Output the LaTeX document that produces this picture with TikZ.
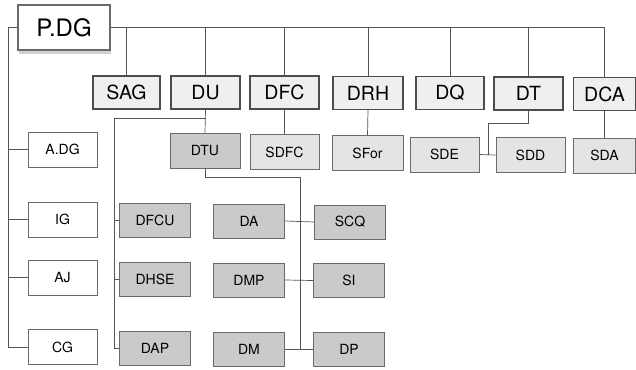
\documentclass[tikz,border=0pt]{standalone}
\usepackage{fontspec}
\setmainfont{TeX Gyre Heros}
\usetikzlibrary{shadows}
\definecolor{linec}{HTML}{555555}
\definecolor{boxline}{HTML}{6A6A6A}
\definecolor{darkfill}{HTML}{CACACA}
\definecolor{lightfill}{HTML}{E4E4E4}
\definecolor{dirfill}{HTML}{EFEFEF}
\tikzset{
  every node/.style={inner sep=0pt, align=center},
  topbox/.style={draw=boxline, line width=1.6pt, fill=white, font=\fontsize{24}{28}\selectfont,
    minimum width=92pt, minimum height=45pt,
    drop shadow={shadow xshift=1pt, shadow yshift=-4pt, fill=gray!35, opacity=1}},
  dirbox/.style={draw=black!70, line width=1.2pt, fill=dirfill, font=\fontsize{19.5}{23}\selectfont,
    minimum height=33pt},
  plainbox/.style={draw=boxline, line width=0.8pt, fill=white, font=\fontsize{14}{17}\selectfont,
    minimum width=69pt, minimum height=35pt},
  lightbox/.style={draw=boxline, line width=0.8pt, fill=lightfill, font=\fontsize{14}{17}\selectfont,
    minimum width=69pt, minimum height=35pt},
  darkbox/.style={draw=boxline, line width=0.8pt, fill=darkfill, font=\fontsize{14}{17}\selectfont,
    minimum width=71pt, minimum height=34pt},
  conn/.style={draw=linec, line width=0.7pt}
}
\begin{document}
\begin{tikzpicture}[x=1pt,y=-1pt]
\useasboundingbox[fill=white] (0,0) rectangle (636,369);
% top
\node[topbox] (pdg) at (64,27.5) {P.DG};
% directors row
\node[dirbox, minimum width=67pt] (sag) at (126.5,92.5) {SAG};
\node[dirbox, minimum width=69pt] (du)  at (205.5,92.5) {DU};
\node[dirbox, minimum width=69pt] (dfc) at (284.5,92.5) {DFC};
\node[dirbox, minimum width=70pt] (drh) at (368,93) {DRH};
\node[dirbox, minimum width=68pt] (dq)  at (450,93) {DQ};
\node[dirbox, minimum width=69pt] (dt)  at (528.5,93.5) {DT};
\node[dirbox, minimum width=62pt] (dca) at (604.5,94) {DCA};
% left column
\node[plainbox] (adg) at (62.5,149.5) {A.DG};
\node[plainbox] (ig)  at (62.5,219.5) {IG};
\node[plainbox] (aj)  at (62.5,277.5) {AJ};
\node[plainbox] (cg)  at (62.5,347) {CG};
% DU subtree
\node[darkbox, minimum width=70pt, minimum height=35pt] (dtu) at (205,150.5) {DTU};
\node[darkbox] (dfcu) at (155,220) {DFCU};
\node[darkbox] (dhse) at (155,279) {DHSE};
\node[darkbox] (dap)  at (155,348) {DAP};
\node[darkbox] (da)   at (249,221) {DA};
\node[darkbox] (dmp)  at (249,280) {DMP};
\node[darkbox] (dm)   at (249,349) {DM};
\node[darkbox] (scq)  at (350,222) {SCQ};
\node[darkbox] (si)   at (349,280.5) {SI};
\node[darkbox] (dp)   at (349,349) {DP};
% sub units
\node[lightbox] (sdfc) at (284.5,152) {SDFC};
\node[lightbox, minimum width=71pt] (sfor) at (367.5,153) {SFor};
\node[lightbox] (sde)  at (444.5,154.5) {SDE};
\node[lightbox] (sdd)  at (530.5,155) {SDD};
\node[lightbox, minimum width=62pt] (sda) at (604.5,155.5) {SDA};
% connectors: top bus
\draw[conn] (pdg.east) -| (sag.north);
\draw[conn] (pdg.east) -| (du.north);
\draw[conn] (pdg.east) -| (dfc.north);
\draw[conn] (pdg.east) -| (drh.north);
\draw[conn] (pdg.east) -| (dq.north);
\draw[conn] (pdg.east) -| (dt.north);
\draw[conn] (pdg.east) -| (dca.north);
% left bus
\coordinate (lb) at (8,0);
\draw[conn] (pdg.west) -| (lb |- cg.west) -- (cg.west);
\draw[conn] (lb |- adg.west) -- (adg.west);
\draw[conn] (lb |- ig.west) -- (ig.west);
\draw[conn] (lb |- aj.west) -- (aj.west);
% DU branch
\draw[conn] (du.south) -- (dtu.north);
\coordinate (ub) at (114,118);
\draw[conn] (du.south |- ub) -- (ub) |- (dap.west);
\draw[conn] (ub |- dfcu.west) -- (dfcu.west);
\draw[conn] (ub |- dhse.west) -- (dhse.west);
% DTU branch
\coordinate (tb) at (300,177);
\draw[conn] (dtu.south) |- (tb) -- (tb |- dm.east);
\draw[conn] (da.east) -- (scq.west);
\draw[conn] (dmp.east) -- (si.west);
\draw[conn] (dm.east) -- (dp.west);
% sub units
\draw[conn] (dfc.south) -- (sdfc.north);
\draw[conn] (drh.south) -- (sfor.north);
\draw[conn] (dca.south) -- (sda.north);
\draw[conn] (sde.east) -- (sdd.west);
\coordinate (dtm) at (488,123);
\draw[conn] (dt.south) |- (dtm) -- (dtm |- sde.east);
\end{tikzpicture}
\end{document}
